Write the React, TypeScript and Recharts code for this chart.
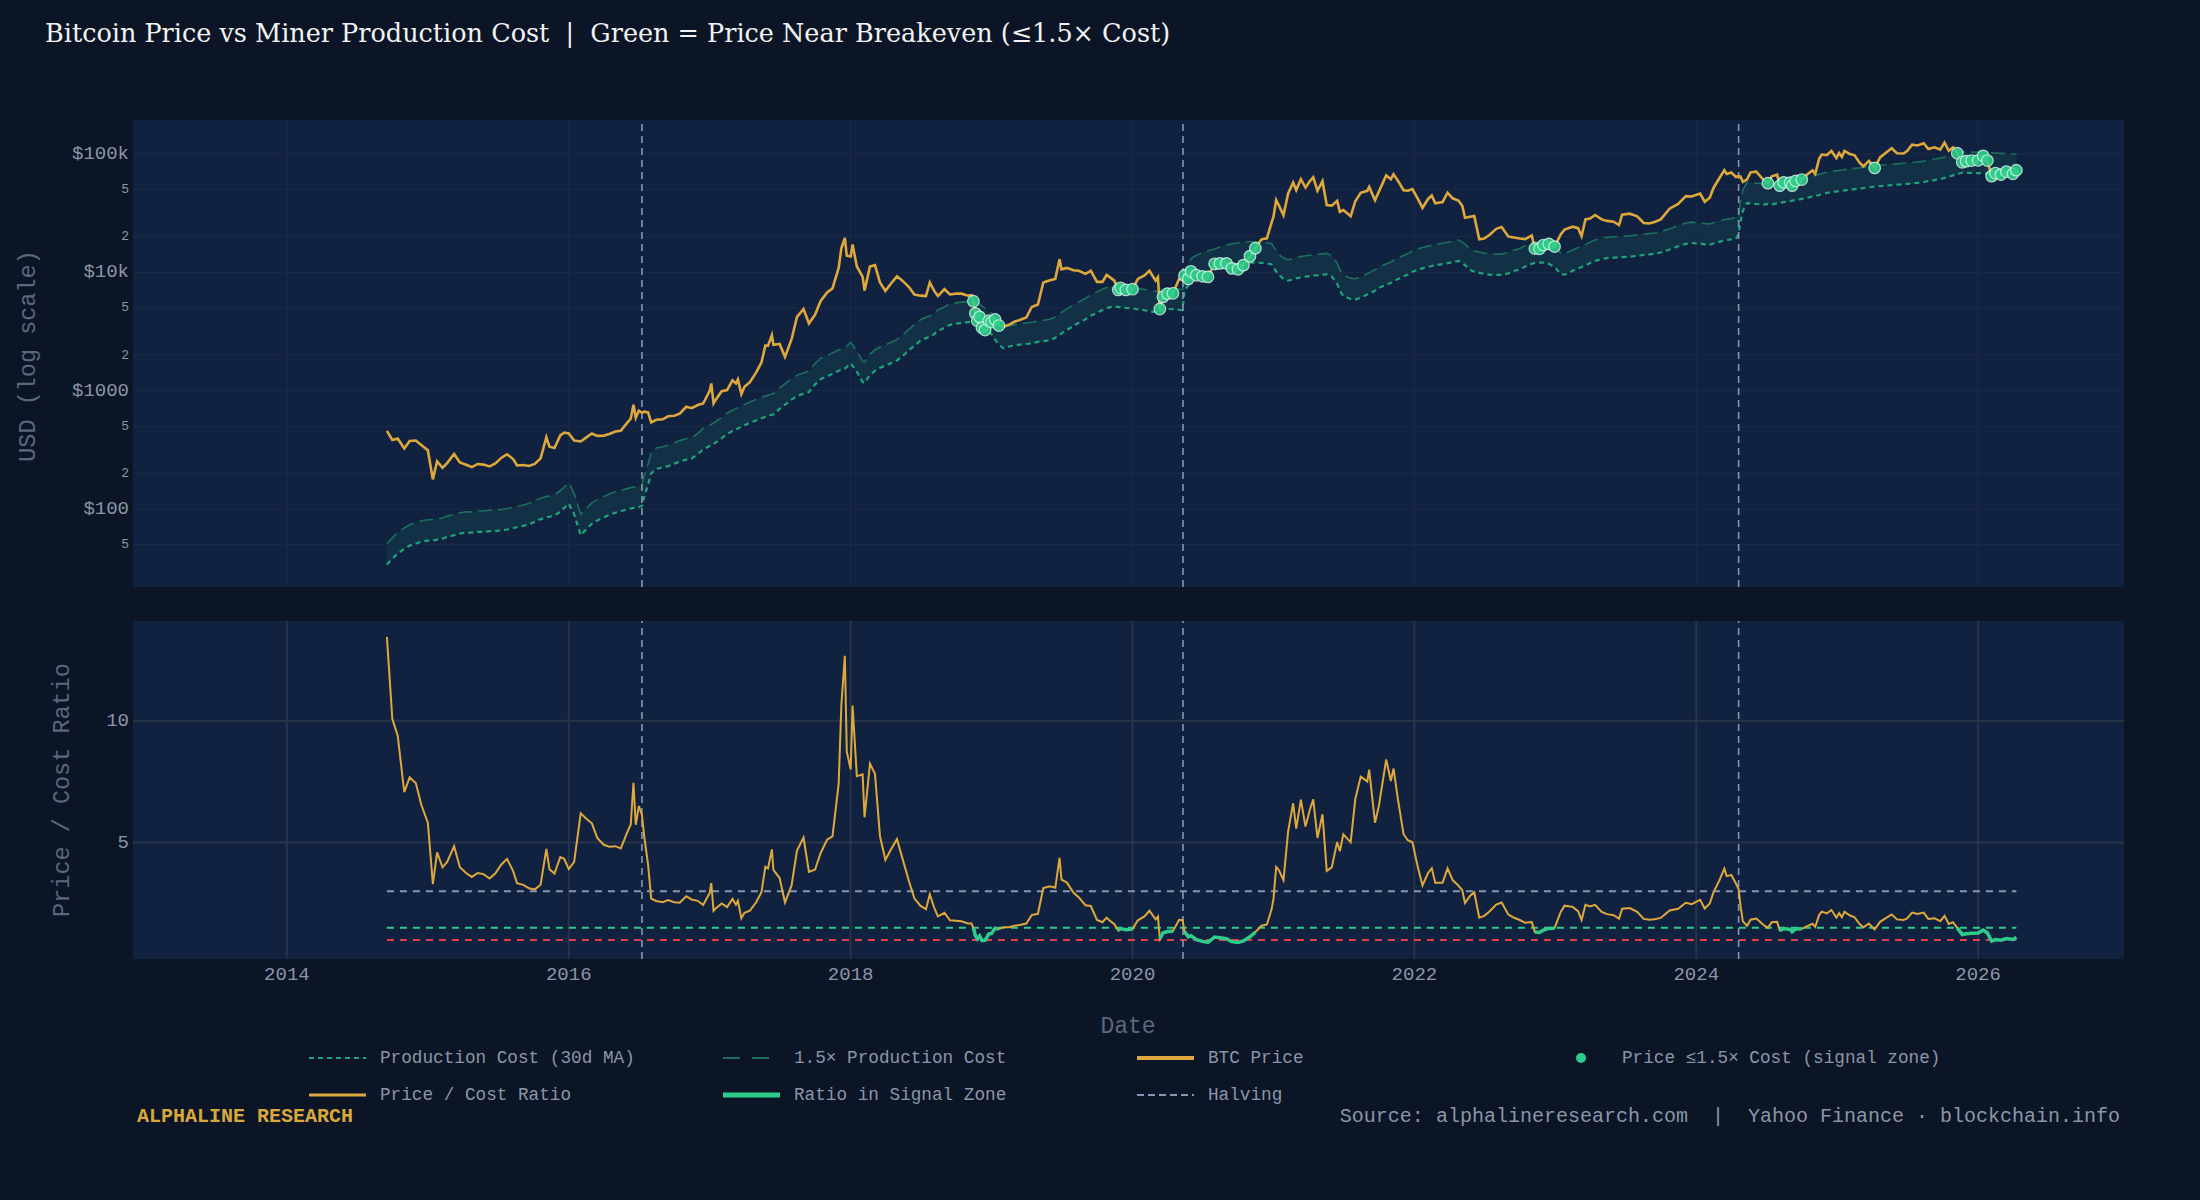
import React from "react";
import { ComposedChart, Line, Area, XAxis, YAxis, ReferenceLine, CartesianGrid } from "recharts";

// ---------------- DATA ----------------
const dates = [
  "2014-09-17","2014-10-01","2014-10-15","2014-11-01","2014-11-15","2014-12-01","2014-12-15",
  "2015-01-01","2015-01-14","2015-01-25","2015-02-08","2015-02-20","2015-03-10","2015-03-25","2015-04-10","2015-04-25","2015-05-10","2015-05-25","2015-06-10","2015-06-25","2015-07-10","2015-07-25","2015-08-10","2015-08-20","2015-09-05","2015-09-20","2015-10-05","2015-10-20","2015-11-04","2015-11-12","2015-11-25","2015-12-10","2015-12-20",
  "2016-01-01","2016-01-15","2016-02-01","2016-02-15","2016-03-01","2016-03-15","2016-04-01","2016-04-15","2016-05-01","2016-05-15","2016-06-01","2016-06-10","2016-06-17","2016-06-23","2016-07-01","2016-07-09","2016-07-15","2016-07-25","2016-08-02","2016-08-15","2016-09-01","2016-09-15","2016-10-01","2016-10-15","2016-11-01","2016-11-15","2016-12-01","2016-12-15",
  "2017-01-01","2017-01-05","2017-01-11","2017-01-15","2017-02-01","2017-02-15","2017-03-01","2017-03-10","2017-03-15","2017-03-24","2017-04-01","2017-04-15","2017-05-01","2017-05-15","2017-05-25","2017-06-01","2017-06-11","2017-06-15","2017-07-01","2017-07-15","2017-08-01","2017-08-15","2017-09-01","2017-09-15","2017-10-01","2017-10-15","2017-11-01","2017-11-15","2017-12-01","2017-12-08","2017-12-17","2017-12-22",
  "2018-01-01","2018-01-06","2018-01-17","2018-02-01","2018-02-06","2018-02-20","2018-03-05","2018-03-18","2018-04-01","2018-04-15","2018-05-01","2018-05-15","2018-06-01","2018-06-15","2018-07-01","2018-07-15","2018-07-25","2018-08-05","2018-08-15","2018-09-01","2018-09-15","2018-10-01","2018-10-15","2018-11-01","2018-11-10","2018-11-15","2018-11-20","2018-11-25","2018-12-01","2018-12-07","2018-12-15","2018-12-25",
  "2019-01-01","2019-01-10","2019-01-20","2019-02-01","2019-02-15","2019-03-01","2019-03-15","2019-04-01","2019-04-15","2019-05-01","2019-05-15","2019-06-01","2019-06-15","2019-06-26","2019-07-01","2019-07-15","2019-08-01","2019-08-15","2019-09-01","2019-09-15","2019-10-01","2019-10-15","2019-10-26","2019-11-01","2019-11-15","2019-11-25","2019-12-01","2019-12-15",
  "2020-01-01","2020-01-15","2020-02-01","2020-02-14","2020-03-01","2020-03-07","2020-03-12","2020-03-20","2020-04-01","2020-04-15","2020-05-01","2020-05-10","2020-05-15","2020-05-25","2020-06-01","2020-06-15","2020-07-01","2020-07-15","2020-08-01","2020-08-15","2020-09-01","2020-09-15","2020-10-01","2020-10-15","2020-11-01","2020-11-15","2020-12-01","2020-12-15","2020-12-27",
  "2021-01-01","2021-01-08","2021-01-15","2021-01-27","2021-02-08","2021-02-21","2021-03-01","2021-03-13","2021-03-25","2021-04-05","2021-04-14","2021-04-25","2021-05-08","2021-05-19","2021-06-01","2021-06-15","2021-06-22","2021-07-01","2021-07-20","2021-08-01","2021-08-15","2021-09-01","2021-09-06","2021-09-21","2021-10-01","2021-10-20","2021-11-01","2021-11-08","2021-11-20","2021-12-04","2021-12-15","2021-12-27",
  "2022-01-10","2022-01-22","2022-02-05","2022-02-15","2022-02-24","2022-03-15","2022-03-28","2022-04-10","2022-04-25","2022-05-05","2022-05-12","2022-05-25","2022-06-05","2022-06-18","2022-07-01","2022-07-15","2022-08-01","2022-08-15","2022-09-01","2022-09-15","2022-10-01","2022-10-15","2022-11-01","2022-11-09","2022-11-21","2022-12-01","2022-12-15","2022-12-30",
  "2023-01-15","2023-01-25","2023-02-15","2023-03-01","2023-03-10","2023-03-20","2023-04-01","2023-04-14","2023-05-01","2023-05-15","2023-06-01","2023-06-15","2023-06-23","2023-07-13","2023-08-01","2023-08-18","2023-09-01","2023-09-15","2023-10-01","2023-10-24","2023-11-15","2023-12-05","2023-12-20",
  "2024-01-11","2024-01-23","2024-02-05","2024-02-15","2024-03-01","2024-03-14","2024-03-20","2024-04-01","2024-04-13","2024-04-20","2024-04-25","2024-05-01","2024-05-12","2024-05-21","2024-06-05","2024-06-24","2024-07-05","2024-07-15","2024-07-29","2024-08-05","2024-08-15","2024-09-01","2024-09-06","2024-09-15","2024-10-01","2024-10-15","2024-10-29","2024-11-05","2024-11-15","2024-11-22","2024-12-05","2024-12-17","2024-12-30",
  "2025-01-06","2025-01-13","2025-01-20","2025-02-01","2025-02-15","2025-02-28","2025-03-10","2025-03-24","2025-04-08","2025-04-22","2025-05-08","2025-05-22","2025-06-05","2025-06-22","2025-07-01","2025-07-14","2025-07-28","2025-08-13","2025-08-25","2025-09-10","2025-09-25","2025-10-06","2025-10-17","2025-10-28","2025-11-08","2025-11-21","2025-12-01","2025-12-15",
  "2026-01-01","2026-01-14","2026-01-25","2026-02-05","2026-02-15","2026-03-01","2026-03-15","2026-04-01","2026-04-10",
];

const btcPrice = [
  457,383,394,325,376,379,347,
  314,178,253,223,244,291,247,236,226,240,237,229,243,270,290,264,233,235,231,240,268,403,336,328,418,442,
  434,379,372,401,434,415,417,430,451,457,537,580,760,590,676,650,665,655,540,567,572,607,614,638,730,711,756,779,
  998,1150,780,822,988,1010,1222,1150,1245,937,1080,1180,1420,1730,2400,2400,2950,2440,2480,1930,2720,4200,4890,3700,4400,5700,6750,7300,10900,16000,19500,13800,
  13600,17200,11200,9200,7000,11200,11500,8200,6950,8000,9250,8500,7500,6500,6350,6300,8200,7000,6300,7200,6500,6600,6600,6350,6400,5700,4500,3900,4200,3400,3250,3900,
  3800,4000,3550,3480,3600,3820,3950,4150,5100,5350,8200,8550,8800,12900,10600,10900,10400,10300,9700,10300,8300,8300,9500,9200,8500,7100,7400,7100,
  7200,8800,9400,10300,8500,9100,4900,6200,6600,6650,8800,8700,9400,8800,10200,9450,9250,9150,11800,11900,11900,10800,10600,11500,13700,16000,19000,19400,26300,
  29400,40800,36800,30400,46400,57500,49600,61200,52000,58900,63500,49000,58800,37000,36600,40200,32500,33600,29800,39900,47000,48800,52700,40700,48100,66000,61300,67500,59000,49400,48900,50600,
  41800,35000,41500,44600,38300,39300,47100,42200,40400,36500,28900,29500,29900,19000,19300,20800,23300,24100,20100,19700,19300,19100,20500,15900,15800,17000,17400,16500,
  20900,23000,24300,23600,20200,28000,28500,30500,28000,27200,26800,25100,30700,31300,29700,26100,25900,26600,28000,34500,37900,44000,43700,
  46300,39500,42700,51900,62400,73000,67900,69700,64000,65000,64500,58200,61000,70000,71000,60300,56700,64800,66800,54000,57600,57300,54000,59200,60800,67000,72700,68000,91000,98900,98000,106100,92600,
  102000,94500,106200,100600,97500,84400,78600,87500,76300,93500,103000,111700,101500,101000,105700,120000,118000,123300,110000,114000,109000,124700,106500,114000,101500,85100,87000,88000,
  88500,96500,88000,65000,69000,67000,71000,68000,73000,
];

const productionCost = [
  34,38,42,46,49,51,53,
  54,54,55,56,58,60,62,63,63,64,64,65,65,66,67,69,70,72,74,78,82,85,86,88,95,102,
  111,90,60,67,75,80,85,89,93,96,99,101,102,103,104,106,127,160,200,218,224,230,241,252,261,267,290,320,
  340,345,355,362,395,430,455,470,478,495,510,535,560,585,600,610,625,630,700,760,840,900,940,975,1130,1250,1320,1390,1470,1500,1540,1580,
  1700,1620,1450,1180,1160,1360,1470,1560,1620,1700,1800,1950,2200,2400,2650,2780,2850,3000,3200,3400,3600,3680,3730,3790,3820,3830,3800,3720,3600,3460,3300,3120,
  3000,2700,2450,2280,2360,2410,2450,2480,2520,2580,2620,2670,2800,2950,3050,3250,3530,3750,4000,4300,4550,4800,4950,5050,5150,5100,5050,5000,
  4960,4870,4780,4680,4600,4640,4700,4800,4900,4880,4820,4800,7000,7800,8700,9300,9800,10100,10500,10900,11300,11600,11800,12000,12100,12100,12000,11850,11700,
  11000,10200,9500,8800,8500,8700,8900,9050,9200,9300,9380,9450,9550,9640,9200,8000,7000,6300,5950,5880,6100,6500,6600,7000,7400,7850,8150,8400,8800,9250,9600,10100,
  10500,10800,11100,11300,11450,11750,11950,12200,12500,12000,11500,10500,10100,9900,9700,9550,9500,9500,9800,10250,10600,11200,11800,12000,12060,12060,11800,11100,
  9700,9550,10300,10800,11100,11450,12000,12500,13000,13200,13300,13400,13450,13550,13800,14000,14150,14350,14700,15600,16600,17400,17700,
  17500,17250,17100,17500,18100,18600,18750,19000,19300,21000,27000,33000,38500,38200,37800,37300,37900,37500,38300,38700,39200,40000,40300,40700,41700,42600,43600,44100,45000,45700,46800,47600,48200,
  48500,48800,49200,49700,50400,51000,51600,52300,53100,53600,54100,54500,55000,55600,56000,56400,57000,58000,59000,60200,61500,62700,64200,66000,67800,69400,69400,69100,
  68800,68700,68500,68200,67900,67500,67100,66700,66400,
];

const halvingDates = ["2012-11-28", "2016-07-09", "2020-05-11", "2024-04-20"];
const yearTicks = [2014, 2016, 2018, 2020, 2022, 2024, 2026];
const priceTicks = [50, 100, 200, 500, 1000, 2000, 5000, 10000, 20000, 50000, 100000];
const priceTickLabels = ["5", "$100", "2", "5", "$1000", "2", "5", "$10k", "2", "5", "$100k"];
const ratioTicks = [5, 10];
const SIGNAL_MULT = 1.5;
const ratioGuides = [3.0, 1.5, 1.0];
const ratioGuideColors = ["#8797b2", "#2ecc8a", "#e0404a"];

const X_DOMAIN: [number, number] = [2012.908, 2027.035];
const PRICE_DOMAIN: [number, number] = [21.9, 193800];
const RATIO_DOMAIN: [number, number] = [0.22, 14.09];

// ---------------- STYLE ----------------
const PAGE_BG = "#0b1526";
const PLOT_BG = "#112240";
const GRID_TOP = "#1b2a47";
const GRID_BOT = "#283447";
const GOLD = "#dfa83c";
const COST_GREEN = "#1fa37a";
const COST15_GREEN = "#1d6f5b";
const SIG_GREEN = "#2ecc8a";
const HALVING = "#8797b2";
const TICK_TXT = "#8b95a7";
const TITLE_TXT = "#5c677c";
const MONO = "'Liberation Mono', 'Courier New', monospace";

const toYear = (s: string) => {
  const [y, m, d] = s.split("-").map(Number);
  const a = Date.UTC(y, 0, 1);
  const b = Date.UTC(y + 1, 0, 1);
  return y + (Date.UTC(y, m - 1, d) - a) / (b - a);
};

const rows = dates.map((d, i) => {
  const price = btcPrice[i];
  const cost = productionCost[i];
  const cost15 = cost * SIGNAL_MULT;
  const ratio = price / cost;
  const sig = ratio <= SIGNAL_MULT;
  return { t: toYear(d), price, cost, cost15, band: [cost, cost15], ratio, ratioSig: sig ? ratio : null, sig };
});
const halvings = halvingDates.map(toYear);
const firstT = rows[0].t;
const lastT = rows[rows.length - 1].t;

const PriceTick = (props: any) => {
  const { x, y, payload } = props;
  const i = priceTicks.indexOf(payload.value);
  const label = i >= 0 ? priceTickLabels[i] : "";
  const major = label.startsWith("$");
  return (
    <text x={x} y={y} textAnchor="end" dominantBaseline="central" fill={TICK_TXT}
      fontSize={major ? 19 : 13} fontFamily={MONO}>{label}</text>
  );
};
const RatioTick = (props: any) => {
  const { x, y, payload } = props;
  return (
    <text x={x} y={y} textAnchor="end" dominantBaseline="central" fill={TICK_TXT} fontSize={19} fontFamily={MONO}>
      {payload.value}
    </text>
  );
};
const YearTick = (props: any) => {
  const { x, y, payload } = props;
  return (
    <text x={x} y={y + 16} textAnchor="middle" dominantBaseline="central" fill={TICK_TXT} fontSize={19} fontFamily={MONO}>
      {payload.value}
    </text>
  );
};

const renderSignalDot = (p: any) => {
  if (!p.payload || !p.payload.sig || p.cy == null) return <g key={`sd${p.index}`} />;
  return (
    <circle key={`sd${p.index}`} cx={p.cx} cy={p.cy} r={5.8} fill={SIG_GREEN} fillOpacity={0.9}
      stroke="#e4fbf1" strokeOpacity={0.75} strokeWidth={1.2} />
  );
};

const legendCols = [309, 723, 1137, 1551];
const legendRows = [1058, 1095];
const legendItems = [
  { label: "Production Cost (30d MA)", kind: "cost", col: 0, row: 0 },
  { label: "1.5× Production Cost", kind: "cost15", col: 1, row: 0 },
  { label: "BTC Price", kind: "price", col: 2, row: 0 },
  { label: "Price ≤1.5× Cost (signal zone)", kind: "marker", col: 3, row: 0 },
  { label: "Price / Cost Ratio", kind: "ratio", col: 0, row: 1 },
  { label: "Ratio in Signal Zone", kind: "ratioSig", col: 1, row: 1 },
  { label: "Halving", kind: "halving", col: 2, row: 1 },
];

const LegendSample = ({ kind, x, y }: any) => {
  const x2 = x + 57;
  switch (kind) {
    case "cost": return <line x1={x} x2={x2} y1={y} y2={y} stroke={COST_GREEN} strokeWidth={2} strokeDasharray="5 4" />;
    case "cost15": return <line x1={x} x2={x2} y1={y} y2={y} stroke={COST15_GREEN} strokeWidth={2} strokeDasharray="17 12" />;
    case "price": return <line x1={x} x2={x2} y1={y} y2={y} stroke={GOLD} strokeWidth={4} />;
    case "marker": return <circle cx={x + 30} cy={y} r={5} fill={SIG_GREEN} />;
    case "ratio": return <line x1={x} x2={x2} y1={y} y2={y} stroke={GOLD} strokeWidth={3} />;
    case "ratioSig": return <line x1={x} x2={x2} y1={y} y2={y} stroke={SIG_GREEN} strokeWidth={5} />;
    default: return <line x1={x} x2={x2} y1={y} y2={y} stroke={HALVING} strokeWidth={2} strokeDasharray="7 4" />;
  }
};

export default function App() {
  return (
    <div style={{ position: "fixed", left: 0, top: 0, width: 2200, height: 1200, background: PAGE_BG, overflow: "hidden" }}>
      <div style={{ position: "absolute", left: 0, top: 0 }}>
        <ComposedChart width={2200} height={600} data={rows} margin={{ top: 120, right: 76, bottom: 13, left: 13 }}>
          <CartesianGrid fill={PLOT_BG} stroke="none" horizontal={false} vertical={false} />
          <XAxis dataKey="t" type="number" domain={X_DOMAIN} allowDataOverflow hide />
          <YAxis scale="log" type="number" domain={PRICE_DOMAIN} allowDataOverflow ticks={priceTicks} tick={PriceTick}
            width={120} axisLine={false} tickLine={false} tickSize={0} tickMargin={4} />
          {priceTicks.map((v) => <ReferenceLine key={`gy${v}`} y={v} stroke={GRID_TOP} strokeWidth={1} />)}
          {yearTicks.map((v) => <ReferenceLine key={`gx${v}`} x={v} stroke={GRID_TOP} strokeWidth={1} />)}
          <Area dataKey="band" type="linear" fill="#1f8f6e" fillOpacity={0.14} stroke="none" isAnimationActive={false} />
          <Line dataKey="cost15" type="linear" stroke={COST15_GREEN} strokeWidth={1.6} strokeDasharray="14 6" dot={false} isAnimationActive={false} />
          <Line dataKey="cost" type="linear" stroke={COST_GREEN} strokeWidth={2.2} strokeDasharray="5 4" dot={false} isAnimationActive={false} />
          {halvings.map((h) => <ReferenceLine key={`h${h}`} x={h} stroke={HALVING} strokeWidth={1.6} strokeDasharray="7 5" />)}
          <Line dataKey="price" type="linear" stroke={GOLD} strokeWidth={2.6} dot={false} isAnimationActive={false} />
          <Line dataKey="price" name="signal" type="linear" stroke="none" dot={renderSignalDot} activeDot={false} isAnimationActive={false} />
        </ComposedChart>
      </div>
      <div style={{ position: "absolute", left: 0, top: 600 }}>
        <ComposedChart width={2200} height={400} data={rows} margin={{ top: 21, right: 76, bottom: 0, left: 13 }}>
          <CartesianGrid fill={PLOT_BG} stroke="none" horizontal={false} vertical={false} />
          <XAxis dataKey="t" type="number" domain={X_DOMAIN} allowDataOverflow ticks={yearTicks} tick={YearTick}
            height={41} axisLine={false} tickLine={false} tickSize={0} tickMargin={0} />
          <YAxis type="number" domain={RATIO_DOMAIN} allowDataOverflow ticks={ratioTicks} tick={RatioTick}
            width={120} axisLine={false} tickLine={false} tickSize={0} tickMargin={4} />
          {ratioTicks.map((v) => <ReferenceLine key={`ry${v}`} y={v} stroke={GRID_BOT} strokeWidth={2} />)}
          {yearTicks.map((v) => <ReferenceLine key={`rx${v}`} x={v} stroke={GRID_BOT} strokeWidth={2} />)}
          {ratioGuides.map((g, i) => (
            <ReferenceLine key={`rg${g}`} segment={[{ x: firstT, y: g }, { x: lastT, y: g }]}
              stroke={ratioGuideColors[i]} strokeWidth={2} strokeDasharray="7 6" />
          ))}
          {halvings.map((h) => <ReferenceLine key={`rh${h}`} x={h} stroke={HALVING} strokeWidth={1.6} strokeDasharray="7 5" />)}
          <Line dataKey="ratio" type="linear" stroke={GOLD} strokeWidth={2} dot={false} isAnimationActive={false} />
          <Line dataKey="ratioSig" type="linear" stroke={SIG_GREEN} strokeWidth={3.5} dot={false} connectNulls={false} isAnimationActive={false} />
        </ComposedChart>
      </div>
      <svg width={2200} height={1200} style={{ position: "absolute", left: 0, top: 0, pointerEvents: "none" }}>
        <text x={45} y={42} fontFamily="'DejaVu Serif', serif" fontSize={25.5} fill="#f2f2f2" xmlSpace="preserve" style={{ whiteSpace: "pre" }}>
          Bitcoin Price vs Miner Production Cost  |  Green = Price Near Breakeven (≤1.5× Cost)
        </text>
        <text transform="translate(28,356) rotate(-90)" textAnchor="middle" dominantBaseline="central" fontFamily={MONO} fontSize={23.5} fill={TITLE_TXT}>USD (log scale)</text>
        <text transform="translate(62,790) rotate(-90)" textAnchor="middle" dominantBaseline="central" fontFamily={MONO} fontSize={23.5} fill={TITLE_TXT}>Price / Cost Ratio</text>
        <text x={1128} y={1027} textAnchor="middle" dominantBaseline="central" fontFamily={MONO} fontSize={23} fill={TITLE_TXT}>Date</text>
        {legendItems.map((it) => {
          const x = legendCols[it.col];
          const y = legendRows[it.row];
          return (
            <g key={it.label}>
              <LegendSample kind={it.kind} x={x} y={y} />
              <text x={x + 71} y={y} dominantBaseline="central" fontFamily={MONO} fontSize={17.7} fill={TICK_TXT}>{it.label}</text>
            </g>
          );
        })}
        <text x={137} y={1116} dominantBaseline="central" fontFamily={MONO} fontWeight="bold" fontSize={20} fill="#d9a83a">ALPHALINE RESEARCH</text>
        <text x={2120} y={1116} textAnchor="end" dominantBaseline="central" fontFamily={MONO} fontSize={20} fill={TICK_TXT} xmlSpace="preserve" style={{ whiteSpace: "pre" }}>
          Source: alphalineresearch.com  |  Yahoo Finance · blockchain.info
        </text>
      </svg>
    </div>
  );
}
